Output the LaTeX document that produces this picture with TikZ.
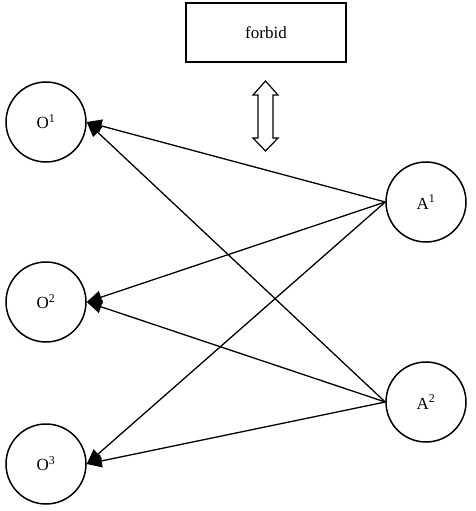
\documentclass[tikz,border=0pt]{standalone}
\usepackage{fontspec}
\setmainfont{Liberation Serif}
\usetikzlibrary{arrows.meta}
\begin{document}
\begin{tikzpicture}[x=1pt,y=-1pt,
  circ/.style={circle,draw,line width=1.5pt,minimum size=80pt,inner sep=0pt,font=\fontsize{17}{20}\selectfont},
  box/.style={rectangle,draw,line width=1.5pt,minimum width=160pt,minimum height=59pt,font=\fontsize{17}{20}\selectfont},
  conn/.style={line width=1.3pt,-{Triangle[length=15pt,width=13pt]}}]
\useasboundingbox (0,0) rectangle (475,511);
\node[box] (forbid) at (266,32.5) {forbid};
\node[circ] (O1) at (46,122) {O\textsuperscript{1}};
\node[circ] (O2) at (46,302) {O\textsuperscript{2}};
\node[circ] (O3) at (46,464) {O\textsuperscript{3}};
\node[circ] (A1) at (426,202) {A\textsuperscript{1}};
\node[circ] (A2) at (426,402) {A\textsuperscript{2}};
\draw[line width=1.2pt,line join=miter]
  (265.5,81) coordinate (dtop) -- (278,95) -- (273,95) -- (273,138) -- (278,138)
  -- (265.5,151) coordinate (dbot) -- (253,138) -- (258,138) -- (258,95) -- (253,95) -- cycle;
\foreach \a in {A1,A2}{
  \foreach \o in {O1,O2,O3}{
    \draw[conn] (\a.west) -- (\o.east);
  }
}
\end{tikzpicture}
\end{document}
